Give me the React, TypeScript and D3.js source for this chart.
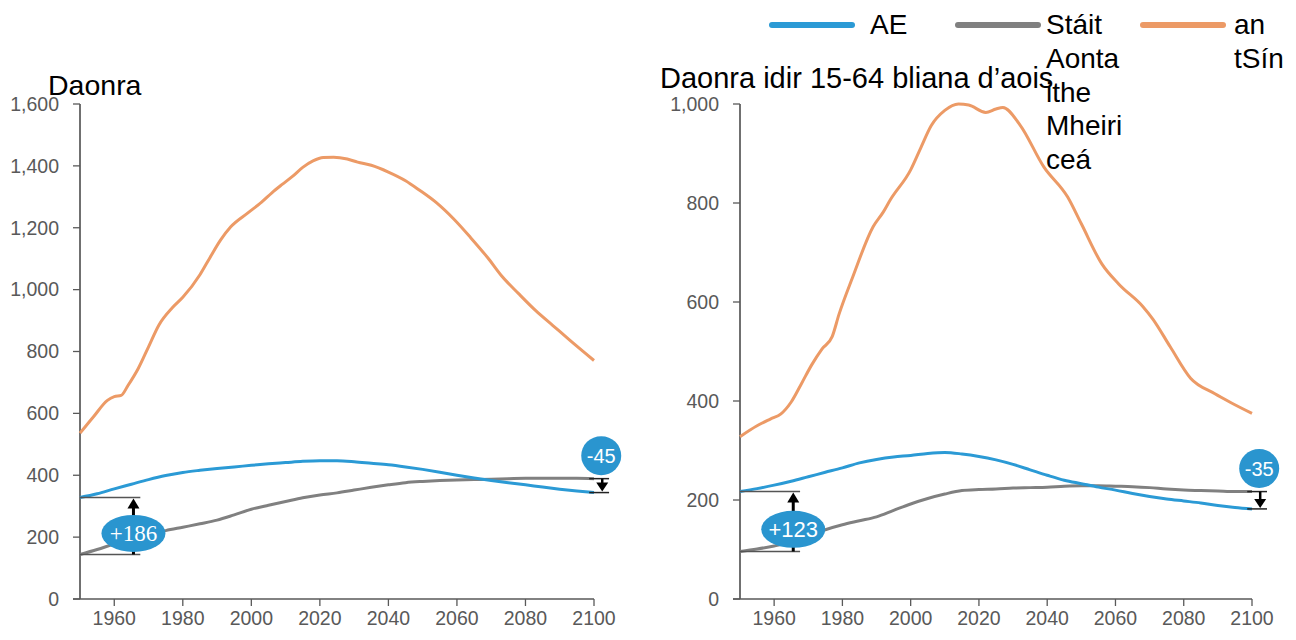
import React from "react";
import * as d3 from "d3";

// ---------- DATA ----------
const xTicks = [1960, 1980, 2000, 2020, 2040, 2060, 2080, 2100];
const leftYTicks = [0, 200, 400, 600, 800, 1000, 1200, 1400, 1600];
const rightYTicks = [0, 200, 400, 600, 800, 1000];

const seriesNames = ["AE", "Stáit Aontaithe Mheiriceá", "an tSín"];
const legendLines = [["AE"], ["Stáit", "Aonta", "ithe", "Mheiri", "ceá"], ["an", "tSín"]];
const titles = ["Daonra", "Daonra idir 15-64 bliana d’aois"];

// Total population (millions)
const euTotal: [number, number][] = [
  [1950, 328], [1955, 340], [1960, 356], [1965, 371], [1970, 386], [1975, 399], [1980, 409],
  [1985, 416], [1990, 422], [1995, 427], [2000, 432], [2005, 437], [2010, 441], [2015, 445],
  [2020, 447], [2025, 447], [2030, 444], [2035, 439], [2040, 434], [2045, 427], [2050, 419],
  [2055, 410], [2060, 400], [2065, 391], [2070, 383], [2075, 376], [2080, 369], [2085, 362],
  [2090, 355], [2095, 349], [2100, 344],
];
const usTotal: [number, number][] = [
  [1950, 144], [1955, 160], [1960, 178], [1965, 194], [1970, 208], [1975, 221], [1980, 232],
  [1985, 243], [1990, 255], [1995, 272], [2000, 290], [2005, 303], [2010, 315], [2015, 327],
  [2020, 336], [2025, 343], [2030, 352], [2035, 361], [2040, 369], [2045, 376], [2050, 380],
  [2055, 383], [2060, 385], [2065, 386], [2070, 387], [2075, 389], [2080, 390], [2085, 390],
  [2090, 390], [2095, 390], [2100, 389],
];
const chinaTotal: [number, number][] = [
  [1950, 536], [1954, 590], [1958, 642], [1960, 654], [1962, 658], [1964, 690], [1967, 745],
  [1970, 815], [1973, 885], [1977, 942], [1980, 975], [1985, 1048], [1988, 1105], [1991, 1160],
  [1994, 1203], [1999, 1248], [2003, 1283], [2006, 1313], [2009, 1340], [2012, 1366],
  [2015, 1395], [2018, 1416], [2021, 1427], [2024, 1428], [2028, 1422], [2031, 1412],
  [2035, 1402], [2040, 1380], [2045, 1352], [2049, 1322], [2054, 1281], [2059, 1229],
  [2064, 1168], [2069, 1103], [2073, 1045], [2078, 987], [2083, 932], [2088, 884],
  [2093, 836], [2100, 771],
];

// Working-age population 15-64 (millions)
const euWork: [number, number][] = [
  [1950, 217], [1955, 223], [1960, 230], [1965, 238], [1970, 247], [1975, 256], [1980, 265],
  [1985, 275], [1990, 282], [1995, 287], [2000, 290], [2005, 294], [2010, 296], [2015, 293],
  [2020, 288], [2025, 281], [2030, 272], [2035, 261], [2040, 250], [2045, 240], [2050, 233],
  [2055, 226], [2060, 220], [2065, 213], [2070, 207], [2075, 202], [2080, 198], [2085, 194],
  [2090, 189], [2095, 185], [2100, 182],
];
const usWork: [number, number][] = [
  [1950, 96], [1955, 101], [1960, 107], [1965, 115], [1970, 128], [1975, 140], [1980, 150],
  [1985, 158], [1990, 166], [1995, 179], [2000, 192], [2005, 203], [2010, 212], [2015, 219],
  [2020, 221], [2025, 222], [2030, 224], [2035, 225], [2040, 226], [2045, 228], [2050, 229],
  [2055, 229], [2060, 228], [2065, 227], [2070, 225], [2075, 222], [2080, 220], [2085, 219],
  [2090, 218], [2095, 217], [2100, 217],
];
const chinaWork: [number, number][] = [
  [1950, 328], [1955, 350], [1959, 364], [1962, 374], [1965, 398], [1968, 435], [1971, 473],
  [1974, 505], [1977, 530], [1979, 575], [1983, 650], [1989, 752], [1992, 782], [1994, 806],
  [2000, 867], [2003, 912], [2006, 956], [2010, 987], [2014, 1000], [2017, 998], [2022, 983],
  [2025, 990], [2027, 993], [2032, 958], [2039, 873], [2046, 812], [2050, 758], [2056, 677],
  [2061, 636], [2068, 591], [2071, 565], [2076, 510], [2082, 446], [2089, 415], [2094, 396],
  [2100, 375],
];

const startLabels = ["+186", "+123"];
const endLabels = ["-45", "-35"];

// ---------- STYLE ----------
const COLORS = ["#2b9ad5", "#808080", "#ec9a66"];
const BUBBLE = "#2a95cf";
const AXIS = "#595959";
const TICKFONT = "'Liberation Sans', Arial, sans-serif";

type Panel = {
  x0: number; x1: number; yMax: number; yTicks: number[]; title: string; titleX: number; titleY: number;
  titleSize: number;
  eu: [number, number][]; us: [number, number][]; cn: [number, number][];
  startLabel: string; endLabel: string; startSerif: boolean;
};

const panels: Panel[] = [
  {
    x0: 80, x1: 594, yMax: 1600, yTicks: leftYTicks, title: titles[0], titleX: 48, titleY: 95, titleSize: 28.5,
    eu: euTotal, us: usTotal, cn: chinaTotal, startLabel: startLabels[0], endLabel: endLabels[0],
    startSerif: true,
  },
  {
    x0: 740, x1: 1252, yMax: 1000, yTicks: rightYTicks, title: titles[1], titleX: 660, titleY: 88, titleSize: 29,
    eu: euWork, us: usWork, cn: chinaWork, startLabel: startLabels[1], endLabel: endLabels[1],
    startSerif: false,
  },
];

const Y0 = 599;
const YTOP = 104;

function PanelView({ p }: { p: Panel }) {
  const x = d3.scaleLinear().domain([1950, 2100]).range([p.x0, p.x1]);
  const y = d3.scaleLinear().domain([0, p.yMax]).range([Y0, YTOP]);
  const line = d3
    .line<[number, number]>()
    .x((d) => x(d[0]))
    .y((d) => y(d[1]))
    .curve(d3.curveMonotoneX);
  const fmt = d3.format(",");

  const euStart = p.eu[0][1];
  const usStart = p.us[0][1];
  const euEnd = p.eu[p.eu.length - 1][1];
  const usEnd = p.us[p.us.length - 1][1];

  const arrowX1 = x(1965.6);
  const arrowX2 = x(2102.4);
  const yEuS = y(euStart);
  const yUsS = y(usStart);
  const yEuE = y(euEnd);
  const yUsE = y(usEnd);

  const bubble1Y = yUsS - (yUsS - yEuS) * 0.37;
  const bubble2Y = yUsE - 23;

  return (
    <g>
      <text x={p.titleX} y={p.titleY} fontFamily="'Liberation Sans', Arial, sans-serif" fontSize={p.titleSize} fill="#000">
        {p.title}
      </text>
      {/* y axis */}
      <line x1={p.x0} x2={p.x0} y1={YTOP} y2={Y0} stroke="#404040" strokeWidth={1.5} />
      {p.yTicks.map((t) => (
        <g key={t}>
          <line x1={p.x0 - 7} x2={p.x0} y1={y(t)} y2={y(t)} stroke={AXIS} strokeWidth={1.3} />
          <text x={p.x0 - 21} y={y(t)} dy="0.35em" textAnchor="end" fontFamily={TICKFONT} fontSize={19.5} fill={AXIS}>
            {fmt(t)}
          </text>
        </g>
      ))}
      {/* x axis */}
      <line x1={p.x0 - 7} x2={p.x1} y1={Y0} y2={Y0} stroke={AXIS} strokeWidth={1.5} />
      {xTicks.map((t) => (
        <g key={t}>
          <line x1={x(t)} x2={x(t)} y1={Y0} y2={Y0 + 7} stroke={AXIS} strokeWidth={1.3} />
          <text x={x(t)} y={Y0 + 19} dy="0.35em" textAnchor="middle" fontFamily={TICKFONT} fontSize={19.5} fill={AXIS}>
            {t}
          </text>
        </g>
      ))}
      {/* series */}
      <path d={line(p.cn) || ""} fill="none" stroke={COLORS[2]} strokeWidth={3} />
      <path d={line(p.us) || ""} fill="none" stroke={COLORS[1]} strokeWidth={3} />
      <path d={line(p.eu) || ""} fill="none" stroke={COLORS[0]} strokeWidth={3} />

      {/* start annotation */}
      <line x1={p.x0} x2={x(1967.6)} y1={yEuS} y2={yEuS} stroke="#555" strokeWidth={1.5} />
      <line x1={p.x0} x2={x(1967.6)} y1={yUsS} y2={yUsS} stroke="#555" strokeWidth={1.5} />
      <line x1={arrowX1} x2={arrowX1} y1={yUsS} y2={yEuS + 9} stroke="#000" strokeWidth={3} />
      <path d={`M${arrowX1 - 6},${yEuS + 11} L${arrowX1 + 6},${yEuS + 11} L${arrowX1},${yEuS + 1} Z`} fill="#000" />
      <ellipse cx={arrowX1} cy={bubble1Y} rx={32} ry={18.5} fill={BUBBLE} />
      <text
        x={arrowX1}
        y={bubble1Y}
        dy="0.35em"
        textAnchor="middle"
        fontFamily={p.startSerif ? "'Liberation Serif', 'Times New Roman', serif" : TICKFONT}
        fontSize={p.startSerif ? 23 : 22}
        fill="#fff"
      >
        {p.startLabel}
      </text>

      {/* end annotation */}
      <line x1={x(2098.6)} x2={x(2104.4)} y1={yUsE} y2={yUsE} stroke="#222" strokeWidth={1.5} />
      <line x1={x(2098.6)} x2={x(2104.4)} y1={yEuE} y2={yEuE} stroke="#222" strokeWidth={1.5} />
      <line x1={arrowX2} x2={arrowX2} y1={yUsE} y2={yEuE - 8} stroke="#000" strokeWidth={2.5} />
      <path d={`M${arrowX2 - 6},${yEuE - 10} L${arrowX2 + 6},${yEuE - 10} L${arrowX2},${yEuE - 1} Z`} fill="#000" />
      <ellipse cx={arrowX2 - 1} cy={bubble2Y} rx={20} ry={19.5} fill={BUBBLE} />
      <text x={arrowX2 - 1} y={bubble2Y} dy="0.35em" textAnchor="middle" fontFamily={TICKFONT} fontSize={20} fill="#fff">
        {p.endLabel}
      </text>
    </g>
  );
}

const legendX = [772, 958, 1143];
const legendLen = 80;

export default function App() {
  return (
    <svg
      width={1296}
      height={640}
      viewBox="0 0 1296 640"
      style={{ position: "absolute", left: 0, top: 0, background: "#fff" }}
    >
      <rect x={0} y={0} width={1296} height={640} fill="#fff" />
      {panels.map((p, i) => (
        <PanelView key={i} p={p} />
      ))}
      {/* legend */}
      {seriesNames.map((name, i) => (
        <g key={name}>
          <line
            x1={legendX[i]}
            x2={legendX[i] + legendLen}
            y1={25}
            y2={25}
            stroke={COLORS[i]}
            strokeWidth={6}
            strokeLinecap="round"
          />
          <text fontFamily="'Liberation Sans', Arial, sans-serif" fontSize={28} fill="#000">
            {legendLines[i].map((ln, j) => (
              <tspan key={j} x={legendX[i] + legendLen + (i === 0 ? 18 : i === 1 ? 8 : 11)} y={34 + j * 33.8}>
                {ln}
              </tspan>
            ))}
          </text>
        </g>
      ))}
    </svg>
  );
}
